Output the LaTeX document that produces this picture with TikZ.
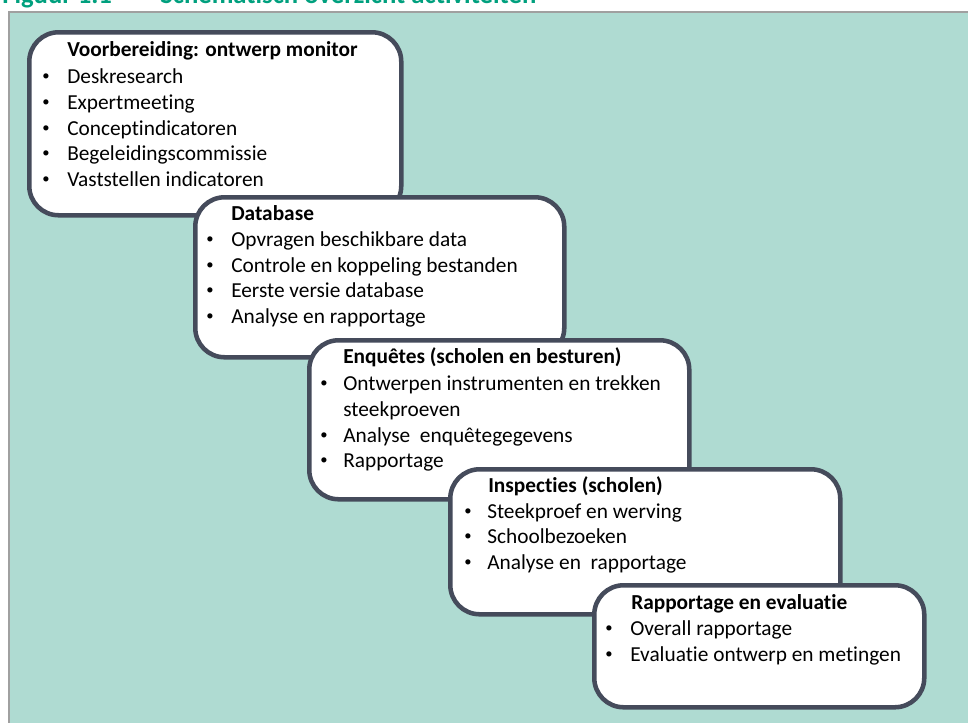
\documentclass[tikz,border=0pt]{standalone}
\usepackage{fontspec}
\setmainfont{Carlito}[Ligatures={NoCommon}]
\definecolor{bgteal}{HTML}{AFDBD2}
\definecolor{boxline}{HTML}{454B5B}
\definecolor{framegray}{HTML}{A0A0A0}
\definecolor{titlegreen}{HTML}{00A07E}
\tikzset{
  stagebox/.style={draw=boxline, fill=white, line width=3.4pt, rounded corners=22pt,
    inner sep=0pt, anchor=north west},
  headtext/.style={anchor=base west, inner sep=0pt, font=\fontsize{16}{19}\selectfont\bfseries},
  itemtext/.style={anchor=base west, inner sep=0pt, font=\fontsize{16}{19}\selectfont},
  bullet/.style={anchor=base, inner sep=0pt, yshift=1.6pt, font=\fontsize{11}{13}\selectfont},
  figtitle/.style={anchor=base west, inner sep=0pt, text=titlegreen, font=\fontsize{20}{24}\selectfont\bfseries}
}
\begin{document}
\begin{tikzpicture}[x=0.75pt,y=-0.75pt]
\useasboundingbox (0,0) rectangle (968,722);
\fill[white] (0,0) rectangle (968,722);
\node[figtitle] (fig) at (2,3) {Figuur 1.1};
\node[figtitle] (figname) at (160,3) {Schematisch overzicht activiteiten};
\filldraw[fill=bgteal, draw=framegray, line width=1.5pt] (9,12) rectangle (980,735);

% Box 1
\node[stagebox, minimum width={372*0.75pt}, minimum height={183*0.75pt}] (b1) at (27,30) {};
\node[headtext] (b1h) at (67,56) {Voorbereiding: ontwerp monitor};
\node[bullet] (b1p1) at (46,83) {•};  \node[itemtext] (b1t1) at (67,83) {Deskresearch};
\node[bullet] (b1p2) at (46,109) {•}; \node[itemtext] (b1t2) at (67,109) {Expertmeeting};
\node[bullet] (b1p3) at (46,135) {•}; \node[itemtext] (b1t3) at (67,135) {Conceptindicatoren};
\node[bullet] (b1p4) at (46,160) {•}; \node[itemtext] (b1t4) at (67,160) {Begeleidingscommissie};
\node[bullet] (b1p5) at (46,186) {•}; \node[itemtext] (b1t5) at (67,186) {Vaststellen indicatoren};

% Box 2
\node[stagebox, minimum width={369*0.75pt}, minimum height={160*0.75pt}] (b2) at (193,195) {};
\node[headtext] (b2h) at (231,220) {Database};
\node[bullet] (b2p1) at (210,246) {•}; \node[itemtext] (b2t1) at (231,246) {Opvragen beschikbare data};
\node[bullet] (b2p2) at (210,272) {•}; \node[itemtext] (b2t2) at (231,272) {Controle en koppeling bestanden};
\node[bullet] (b2p3) at (210,297) {•}; \node[itemtext] (b2t3) at (231,297) {Eerste versie database};
\node[bullet] (b2p4) at (210,323) {•}; \node[itemtext] (b2t4) at (231,323) {Analyse en rapportage};

% Box 3
\node[stagebox, minimum width={380*0.75pt}, minimum height={159*0.75pt}] (b3) at (307,338) {};
\node[headtext] (b3h) at (343,363) {Enquêtes (scholen en besturen)};
\node[bullet] (b3p1) at (324,390) {•}; \node[itemtext] (b3t1) at (343,390) {Ontwerpen instrumenten en trekken};
\node[itemtext] (b3t1b) at (343,416) {steekproeven};
\node[bullet] (b3p2) at (324,442) {•}; \node[itemtext] (b3t2) at (343,442) {Analyse\ \ enquêtegegevens};
\node[bullet] (b3p3) at (324,467) {•}; \node[itemtext] (b3t3) at (343,467) {Rapportage};

% Box 4
\node[stagebox, minimum width={390*0.75pt}, minimum height={145*0.75pt}] (b4) at (448,467) {};
\node[headtext] (b4h) at (488,492) {Inspecties (scholen)};
\node[bullet] (b4p1) at (468,518) {•}; \node[itemtext] (b4t1) at (487,518) {Steekproef en werving};
\node[bullet] (b4p2) at (468,543) {•}; \node[itemtext] (b4t2) at (487,543) {Schoolbezoeken};
\node[bullet] (b4p3) at (468,569) {•}; \node[itemtext] (b4t3) at (487,569) {Analyse en\ \ rapportage};

% Box 5
\node[stagebox, minimum width={330*0.75pt}, minimum height={122*0.75pt}] (b5) at (592,583) {};
\node[headtext] (b5h) at (631,609) {Rapportage en evaluatie};
\node[bullet] (b5p1) at (609,635) {•}; \node[itemtext] (b5t1) at (630,635) {Overall rapportage};
\node[bullet] (b5p2) at (609,661) {•}; \node[itemtext] (b5t2) at (630,661) {Evaluatie ontwerp en metingen};
\end{tikzpicture}
\end{document}
